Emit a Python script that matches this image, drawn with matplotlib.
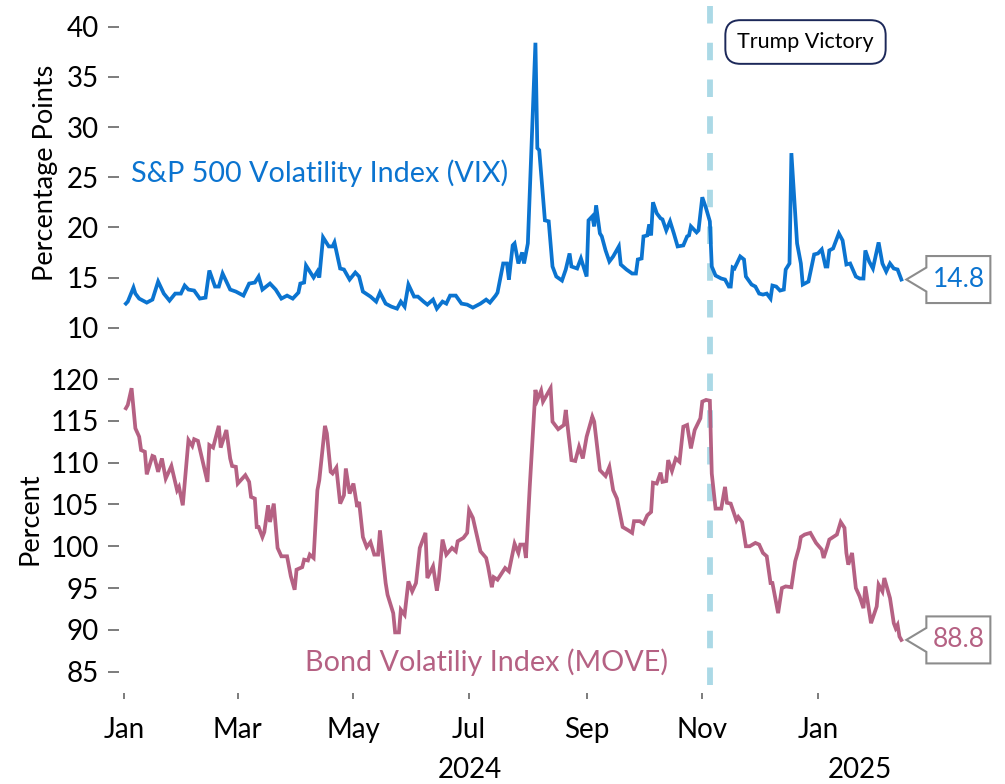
import matplotlib
matplotlib.use("Agg")
import matplotlib.pyplot as plt
import matplotlib.dates as mdates
import matplotlib.transforms as mtransforms
from matplotlib.patches import Polygon
from matplotlib.lines import Line2D
import numpy as np
import pandas as pd

plt.rcParams['font.family'] = ['Lato', 'DejaVu Sans']

# дни от 1 января 2024 и значения индексов
start = pd.Timestamp('2024-01-01')

vix_day = [1, 2, 5, 6, 8, 12, 15, 18, 21, 24,
           27, 30, 32, 34, 37, 40, 43, 45, 48, 50,
           52, 56, 59, 63, 66, 69, 71, 73, 77, 80,
           83, 86, 89, 92, 93, 95, 96, 98, 100, 102,
           103, 105, 108, 110, 111, 114, 116, 119, 122, 124,
           126, 130, 133, 135, 138, 141, 144, 146, 148, 150,
           153, 155, 158, 160, 163, 165, 168, 170, 172, 175,
           178, 181, 184, 188, 191, 193, 196, 197, 200, 202,
           203, 205, 206, 208, 210, 211, 213, 214, 217, 218,
           219, 222, 224, 226, 228, 231, 233, 235, 236, 239,
           241, 244, 245, 247, 248, 249, 251, 252, 254, 256,
           258, 261, 262, 265, 268, 270, 271, 273, 274, 276,
           277, 278, 279, 281, 283, 284, 286, 288, 290, 292,
           295, 297, 298, 299, 302, 303, 305, 307, 309, 310,
           312, 315, 317, 319, 320, 321, 322, 325, 327, 328,
           331, 333, 335, 337, 339, 341, 342, 344, 346, 348,
           349, 351, 352, 355, 357, 358, 361, 364, 366, 368,
           370, 371, 372, 374, 377, 379, 381, 383, 386, 388,
           390, 391, 393, 395, 398, 400, 402, 404, 406, 408,
           410]
vix_val = [12.4, 12.6, 14.0, 13.4, 12.9, 12.5, 12.8, 14.6, 13.4, 12.7,
           13.4, 13.4, 14.2, 13.8, 13.7, 12.9, 13.0, 15.7, 14.1, 14.1,
           15.4, 13.8, 13.6, 13.2, 14.4, 14.5, 15.1, 13.8, 14.4, 13.8,
           12.9, 13.2, 12.9, 13.5, 14.4, 14.5, 16.2, 15.6, 15.0, 15.6,
           15.0, 19.0, 18.1, 18.1, 18.5, 15.9, 15.8, 14.8, 15.5, 15.1,
           13.6, 13.1, 12.6, 13.5, 12.4, 12.1, 11.9, 12.6, 12.1, 14.3,
           13.1, 13.1, 12.6, 12.3, 12.8, 11.9, 12.6, 12.4, 13.2, 13.2,
           12.4, 12.3, 12.0, 12.4, 12.8, 12.5, 13.2, 13.5, 16.4, 16.4,
           14.8, 18.2, 18.4, 16.4, 17.5, 16.4, 18.4, 23.4, 38.4, 27.9,
           27.7, 20.7, 20.6, 16.1, 15.1, 14.7, 15.8, 17.4, 16.1, 15.9,
           16.9, 15.1, 20.7, 21.1, 20.1, 22.2, 19.4, 19.1, 17.7, 16.6,
           17.1, 18.1, 16.3, 15.8, 15.4, 15.4, 16.8, 16.9, 19.1, 19.2,
           20.3, 19.2, 22.5, 21.4, 20.9, 20.8, 19.7, 20.6, 19.4, 18.1,
           18.2, 19.1, 19.2, 20.1, 19.5, 19.7, 23.0, 21.9, 20.6, 16.1,
           15.2, 14.9, 14.8, 14.1, 14.1, 16.0, 15.9, 17.1, 16.8, 15.1,
           14.3, 14.1, 13.4, 13.3, 13.4, 12.9, 14.2, 14.1, 13.7, 13.8,
           15.8, 16.4, 27.4, 18.4, 16.4, 14.3, 14.6, 17.3, 17.4, 17.8,
           16.1, 16.1, 17.7, 17.9, 19.4, 18.7, 16.3, 16.4, 15.1, 14.9,
           14.9, 17.7, 16.6, 15.9, 18.5, 16.4, 15.6, 16.4, 15.9, 15.8,
           14.8]

move_day = [1, 2, 4, 6, 8, 9, 11, 12, 15, 16,
            18, 20, 22, 25, 28, 29, 31, 34, 36, 37,
            39, 44, 45, 47, 50, 51, 54, 56, 57, 59,
            60, 64, 66, 67, 69, 70, 71, 73, 74, 76,
            77, 79, 81, 83, 86, 88, 90, 91, 94, 95,
            97, 98, 100, 102, 103, 106, 107, 109, 110, 112,
            114, 116, 117, 119, 121, 123, 124, 126, 128, 130,
            132, 134, 135, 138, 139, 142, 143, 145, 146, 148,
            150, 152, 154, 156, 159, 160, 163, 165, 166, 168,
            170, 173, 175, 176, 179, 181, 182, 184, 188, 191,
            192, 194, 195, 197, 201, 203, 206, 208, 209, 211,
            212, 214, 216, 217, 218, 220, 221, 223, 225, 226,
            229, 232, 233, 236, 238, 240, 242, 244, 247, 248,
            251, 254, 256, 258, 260, 263, 266, 268, 269, 272,
            274, 276, 278, 279, 281, 283, 284, 286, 287, 289,
            291, 293, 295, 297, 299, 301, 304, 305, 307, 309,
            310, 312, 315, 317, 318, 320, 323, 324, 326, 328,
            330, 333, 335, 337, 339, 341, 342, 345, 347, 349,
            352, 354, 356, 357, 359, 362, 364, 365, 368, 369,
            371, 372, 374, 376, 378, 380, 381, 382, 384, 386,
            388, 390, 391, 394, 397, 398, 400, 401, 404, 406,
            407, 408, 409, 410]
move_val = [116.5, 116.9, 118.9, 114.1, 113.1, 111.5, 111.3, 108.6, 110.8, 110.7,
            108.9, 110.5, 108.1, 109.6, 106.7, 107.1, 104.9, 112.7, 112.0, 112.8,
            112.6, 107.7, 112.1, 111.8, 114.4, 111.8, 113.9, 110.5, 109.6, 109.5,
            107.5, 108.5, 107.7, 105.9, 105.7, 102.3, 102.3, 101.1, 101.7, 104.9,
            102.9, 105.1, 99.8, 98.8, 98.8, 96.4, 94.8, 97.2, 97.5, 98.4,
            98.3, 99.0, 98.6, 106.7, 107.9, 114.4, 113.5, 108.9, 108.7, 109.4,
            105.1, 106.1, 109.3, 106.3, 107.5, 104.7, 105.3, 101.1, 99.9, 100.5,
            99.0, 99.0, 101.9, 95.6, 94.2, 92.0, 89.7, 89.7, 92.4, 91.8,
            95.8, 94.6, 95.6, 99.8, 101.6, 96.2, 97.6, 94.7, 96.0, 100.8,
            99.0, 99.8, 99.4, 100.6, 101.0, 101.6, 104.3, 103.4, 99.4, 98.6,
            97.6, 95.1, 96.3, 96.0, 97.4, 97.0, 100.3, 99.2, 100.2, 100.2,
            98.6, 107.1, 114.7, 118.7, 117.5, 118.6, 117.3, 118.1, 118.9, 114.9,
            114.0, 114.5, 116.3, 110.3, 110.2, 111.9, 110.5, 113.1, 115.5, 114.9,
            109.1, 108.4, 109.5, 106.7, 105.7, 102.3, 101.9, 101.6, 103.0, 103.0,
            102.7, 103.7, 104.1, 107.6, 107.5, 108.8, 107.7, 107.8, 110.3, 109.0,
            110.5, 110.1, 114.3, 114.5, 111.7, 113.9, 115.3, 117.3, 117.5, 117.4,
            108.7, 104.5, 104.5, 107.1, 105.2, 105.1, 103.1, 103.5, 102.9, 100.0,
            100.0, 100.4, 100.2, 99.2, 98.8, 95.6, 95.6, 92.0, 95.0, 95.2,
            95.1, 98.2, 99.8, 101.1, 101.4, 101.6, 100.8, 100.4, 99.6, 98.6,
            100.0, 100.8, 101.1, 101.4, 102.9, 102.2, 99.2, 97.8, 99.2, 95.0,
            94.0, 92.6, 95.2, 90.8, 92.8, 95.4, 94.6, 96.2, 93.8, 90.8,
            90.2, 90.6, 89.2, 88.8]

election_date = '2024-11-05'
vix_label = 'S&P 500 Volatility Index (VIX)'
move_label = 'Bond Volatiliy Index (MOVE)'
event_label = 'Trump Victory'

vix_dates = start + pd.to_timedelta(vix_day, unit='D')
move_dates = start + pd.to_timedelta(move_day, unit='D')

vix_color = '#0B74D0'
move_color = '#B56183'
dash_color = '#ABD9E6'
tick_color = '#666666'

W, H = 1005, 784
fig = plt.figure(figsize=(W / 100, H / 100), dpi=100)
fig.patch.set_facecolor('white')

# оси задаются в пикселях
def px_axes(left, top, right, bottom):
    return fig.add_axes([left / W, 1 - bottom / H, (right - left) / W, (bottom - top) / H])

ax1 = px_axes(118.5, 5, 1005, 340)
ax2 = px_axes(118.5, 345, 1005, 693)

px_per_day = 1.896
x0 = mdates.date2num(start) - (124 - 118.5) / px_per_day
x1 = x0 + (1005 - 118.5) / px_per_day

for ax in (ax1, ax2):
    ax.set_facecolor('none')
    for s in ax.spines.values():
        s.set_visible(False)
    ax.set_xlim(x0, x1)
    ax.tick_params(axis='y', length=8, width=1.2, color=tick_color, pad=6,
                   labelsize=20, labelcolor='black')

ax1.plot(vix_dates, vix_val, color=vix_color, lw=2.7, solid_joinstyle='miter')
ax2.plot(move_dates, move_val, color=move_color, lw=2.7, solid_joinstyle='miter')

ax1.set_ylim(10 - (340 - 327.7) / 10.03, 40 + (26.7 - 5) / 10.03)
ax1.set_yticks(np.arange(10, 41, 5))
ax2.set_ylim(85 - (693 - 671.7) / 8.36, 120 + (379 - 345) / 8.36)
ax2.set_yticks(np.arange(85, 121, 5))

ax1.set_ylabel('Percentage Points', fontsize=19.5, labelpad=6)
ax2.set_ylabel('Percent', fontsize=19.5, labelpad=6)

ax1.tick_params(axis='x', bottom=False, labelbottom=False)

# месяцы через один, только в пределах данных
month_ticks = pd.date_range(start, move_dates[-1], freq='2MS')
ax2.set_xticks(mdates.date2num(month_ticks))
ax2.xaxis.set_major_formatter(mdates.DateFormatter('%b'))
ax2.xaxis.set_minor_locator(mdates.YearLocator())
ax2.tick_params(axis='x', which='major', length=4, width=1.2, color=tick_color,
                labelsize=20, pad=13)
ax2.tick_params(axis='x', which='minor', length=9, width=1.6, color='#333333')

# подписи годов по центру диапазона данных
years_tr = mtransforms.blended_transform_factory(ax2.transData, fig.transFigure)
all_dates = pd.Series(move_dates)
for yr in sorted(all_dates.dt.year.unique()):
    d_in = all_dates[all_dates.dt.year == yr]
    y_start = pd.Timestamp(f'{yr}-01-01')
    y_end = min(pd.Timestamp(f'{yr}-12-31'), d_in.max())
    mid = y_start + (y_end - y_start) / 2
    fig.text(mdates.date2num(mid), 1 - 770 / H, str(yr), transform=years_tr,
             ha='center', va='center', fontsize=20)

# вертикальная линия — выборы
vline_tr = mtransforms.blended_transform_factory(ax2.transData, fig.transFigure)
ed = mdates.date2num(pd.Timestamp(election_date))
fig.add_artist(Line2D([ed, ed], [1 - 6 / H, 1 - 693 / H], transform=vline_tr,
                      color=dash_color, lw=4.2, dashes=(3.0, 3.3),
                      solid_capstyle='butt', dash_capstyle='butt', zorder=-1))

fig.text(805.5 / W, 1 - 42 / H, event_label, ha='center', va='center', fontsize=15.5,
         bbox=dict(boxstyle='round,pad=0.55,rounding_size=0.7', fc='white',
                   ec='#1C2859', lw=1.4))

# подписи серий
fig.text(131 / W, 1 - 173 / H, vix_label, ha='left', va='center',
         fontsize=20.7, color=vix_color)
fig.text(486 / W, 1 - 662 / H, move_label, ha='center', va='center',
         fontsize=20.7, color=move_color)

# выноски с последним значением
def end_callout(ax, dates, vals, color):
    xd = mdates.date2num(dates[-1])
    yd = vals[-1]
    tr = fig.dpi_scale_trans + mtransforms.ScaledTranslation(xd, yd, ax.transData)
    verts = np.array([(5, 0), (25, 12), (25, 23.5), (89, 23.5),
                      (89, -23.5), (25, -23.5), (25, -12)]) / 100
    ax.add_patch(Polygon(verts, closed=True, transform=tr, fc='white',
                         ec='#8C8C8C', lw=1.5, clip_on=False, zorder=5))
    ax.text(0.575, 0, f'{yd:.1f}', transform=tr, ha='center', va='center',
            fontsize=19, color=color, zorder=6, clip_on=False)

end_callout(ax1, vix_dates, vix_val, vix_color)
end_callout(ax2, move_dates, move_val, move_color)

fig.savefig('out.png', dpi=100, facecolor='white')
